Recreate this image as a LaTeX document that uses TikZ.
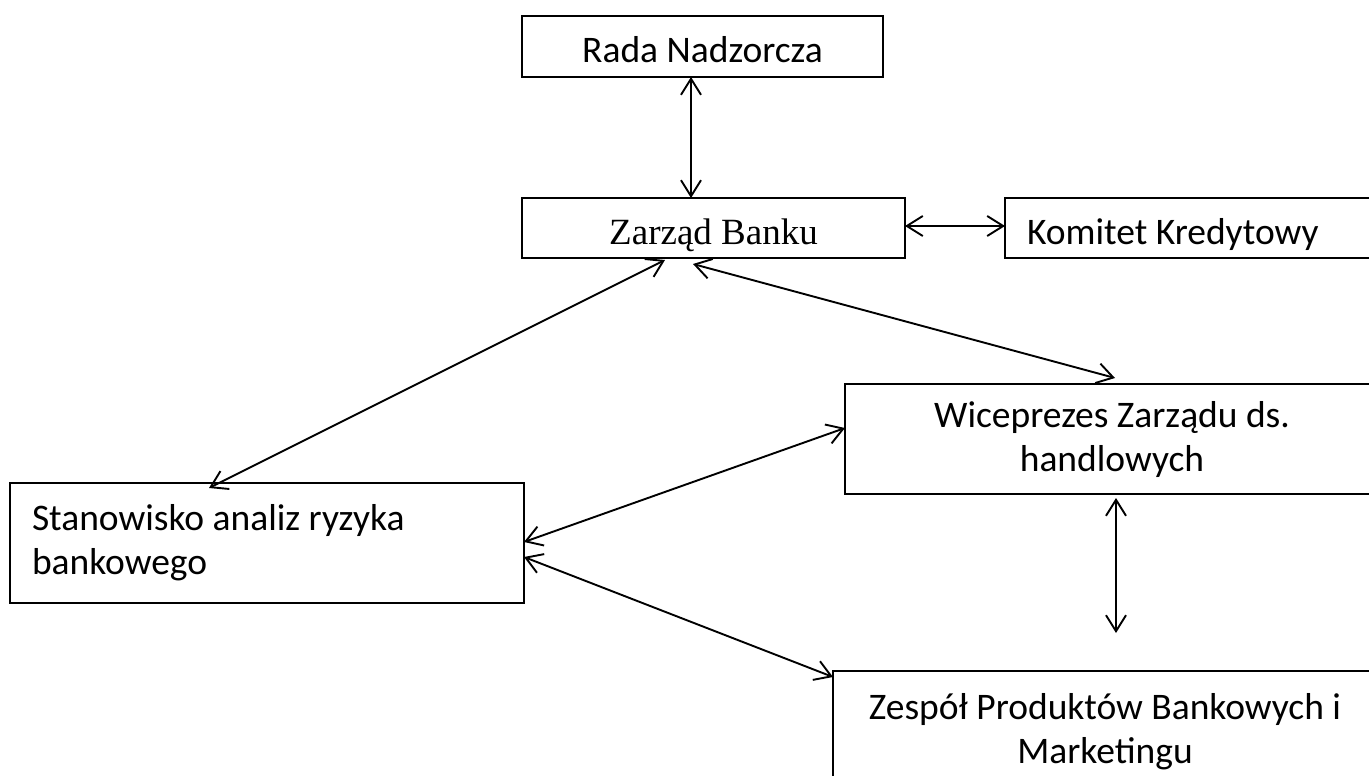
\documentclass[tikz,border=0pt]{standalone}
\usepackage{fontspec}
\setmainfont{Carlito}
\newfontfamily\serifbox{Liberation Serif}
\usetikzlibrary{calc,arrows.meta}

\begin{document}
\begin{tikzpicture}[
  x=1pt, y=-1pt,
  box/.style={rectangle, draw=black, line width=2.1pt, inner xsep=22pt, inner ysep=0pt, outer sep=0pt, font=\fontsize{37.5}{44}\selectfont},
  single/.style={box, text height=37pt, text depth=4pt},
  multi/.style={box, align=center},
  arrow/.style={{Straight Barb[length=16pt,width=20pt]}-{Straight Barb[length=16pt,width=20pt]}, line width=1.9pt}
]
  \useasboundingbox (0,0) rectangle (1369,776);
  \clip (0,0) rectangle (1369,776);

  % Nodes
  \node[single, minimum width=361pt, minimum height=61pt] (rada) at (702.5,46.5) {Rada Nadzorcza};
  \node[single, minimum width=383pt, minimum height=60pt, font=\serifbox\fontsize{37}{44}\selectfont] (zarzad) at (713.5,228) {Zarząd Banku};
  \node[single, text width=356pt, align=flush left, minimum height=60pt, anchor=west] (komitet) at (1005,228) {Komitet Kredytowy};
  \node[multi, minimum width=534pt, minimum height=110pt, anchor=north west] (wice) at (845,384) {Wiceprezes Zarządu ds.\\handlowych};
  \node[box, text width=470pt, align=flush left, minimum height=120pt, anchor=north west] (stan) at (10,483) {Stanowisko analiz ryzyka\\bankowego};
  \node[multi, minimum width=544pt, minimum height=122pt, anchor=north west] (zespol) at (833,671) {Zespół Produktów Bankowych i\\Marketingu};

  % Lines / Arrows
  \draw[arrow] ($(rada.south)+(-11.5,0)$) -- ($(rada.south |- zarzad.north)+(-11.5,0)$);
  \draw[arrow] ($(zarzad.east)+(0,-2)$) -- ($(komitet.west)+(0,-2)$);
  \draw[arrow] ($(zarzad.south)+(-48.5,2)$) -- ($(stan.north)+(-58,5)$);
  \draw[arrow] ($(zarzad.south)+(-20.5,6)$) -- ($(wice.north)+(3,-6)$);
  \draw[arrow] ($(wice.west)+(0,-11)$) -- ($(stan.east)+(0,-1)$);
  \draw[arrow] ($(wice.south)+(4,4)$) -- ($(wice.south |- zespol.north)+(4,-38)$);
  \draw[arrow] ($(stan.east)+(0,14)$) -- ($(zespol.north west)+(0,6)$);
\end{tikzpicture}
\end{document}
